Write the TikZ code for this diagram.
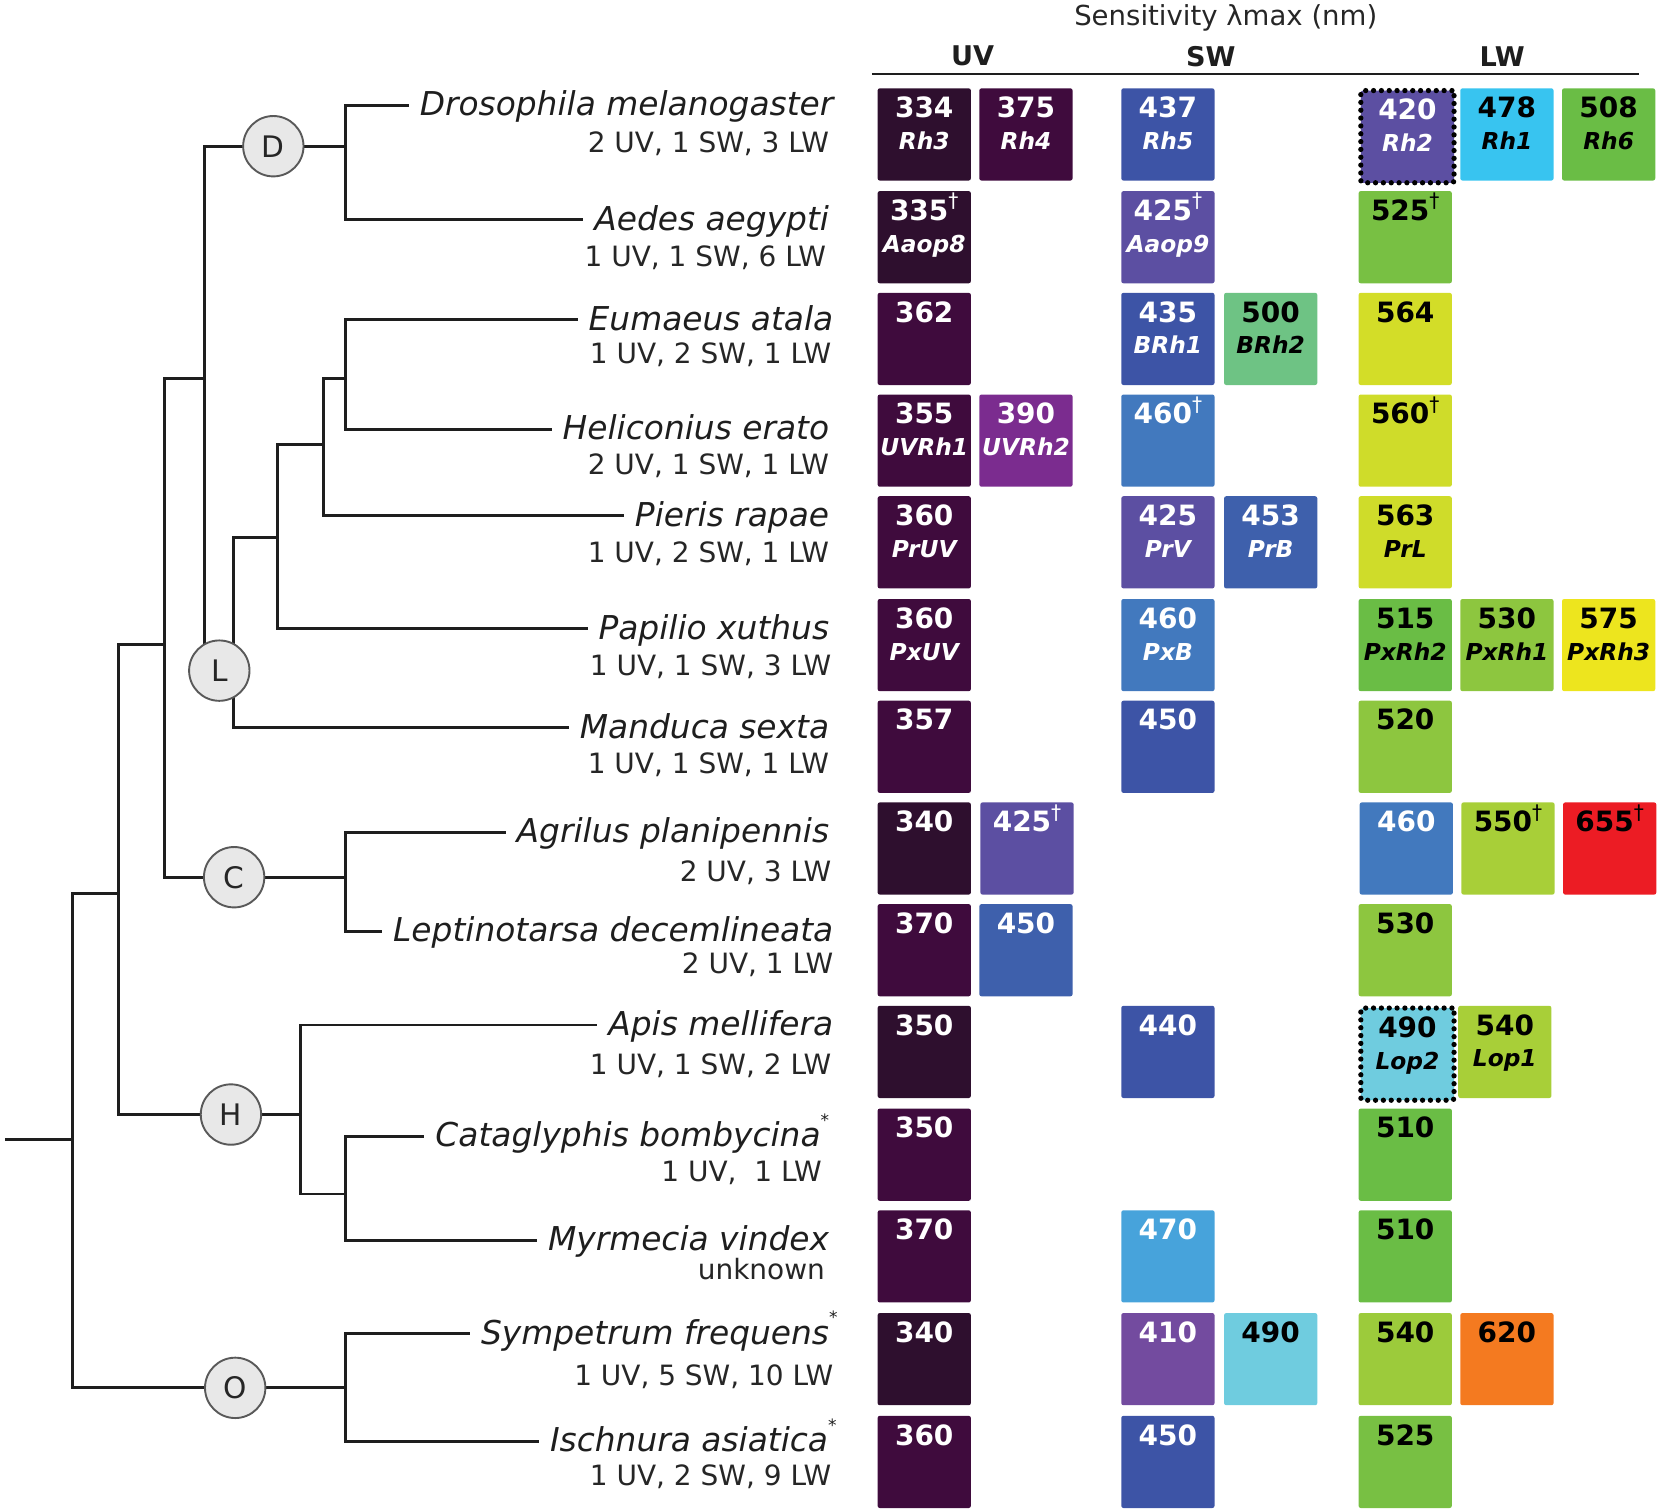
\documentclass[tikz,border=0pt]{standalone}
\usepackage{fontspec}
\setmainfont{DejaVu Sans}
\usepackage{tikz}

\definecolor{uvdark}{HTML}{2E0F2E}
\definecolor{uvplum}{HTML}{3F0B3D}
\definecolor{purple}{HTML}{7B2C8F}
\definecolor{lavender}{HTML}{734B9F}
\definecolor{violet}{HTML}{5C4FA2}
\definecolor{indigo}{HTML}{3D54A6}
\definecolor{cobalt}{HTML}{3E60AC}
\definecolor{azure}{HTML}{4279BE}
\definecolor{sky}{HTML}{47A3DB}
\definecolor{cyan}{HTML}{38C4F0}
\definecolor{aqua}{HTML}{6FCCDF}
\definecolor{mint}{HTML}{6EC384}
\definecolor{green}{HTML}{6ABD45}
\definecolor{grass}{HTML}{78C043}
\definecolor{lime}{HTML}{8DC63F}
\definecolor{chartreuse}{HTML}{A8CF38}
\definecolor{yellowgreen}{HTML}{CFDC2A}
\definecolor{yellow}{HTML}{EDE51E}
\definecolor{orange}{HTML}{F47A20}
\definecolor{red}{HTML}{EC1C24}
\definecolor{ink}{HTML}{1E1E1E}

\tikzset{
  branch/.style={line width=1.4pt,draw=ink},
  clade/.style={circle,draw=black!65,fill=black!9,line width=0.9pt,minimum size=28.5pt,inner sep=0pt,font=\fontsize{14}{14}\selectfont,text=black!85},
  spname/.style={anchor=east,inner xsep=5pt,inner ysep=0pt,text height=1.15em,text depth=0.16em,font=\fontsize{15.5}{17}\selectfont\itshape,text=ink},
  spcount/.style={anchor=base east,inner sep=0pt,font=\fontsize{13.2}{15}\selectfont,text=black!85},
  head/.style={font=\fontsize{13}{15}\selectfont,text=black!85},
  band/.style={font=\fontsize{12.8}{15}\selectfont\bfseries,text=ink},
  opbox/.style={anchor=north west,inner sep=0pt,rounded corners=1pt,font=\fontsize{13.2}{15}\selectfont\bfseries},
  wt/.style={text=white},
  bk/.style={text=black},
  dots/.style={draw=black,line width=2.5pt,dash pattern=on 0pt off 3.7pt,line cap=round},
}

\newcommand{\gene}[1]{{\fontsize{11}{15}\selectfont\itshape #1}}
\newcommand{\dg}{\smash{\raisebox{0.45em}{\fontsize{9.5}{10}\selectfont\mdseries †}}}
\newcommand{\starmark}{\rlap{\raisebox{0.62em}{\fontsize{8}{9}\selectfont\upshape *}}}
% box: name, x, y, options, text
\newcommand{\opsin}[5]{\node[opbox,#4] (#1) at (#2,#3) {\parbox[t][43.5pt][t]{44pt}{\centering\rule{0pt}{13.8pt}#5}};}
% species: name, x, y, label, x, y, count
\newcommand{\taxon}[7]{\node[spname] (#1) at (#2,#3) {#4};
  \node[spcount] (#1c) at (#5,#6) {#7};}

\begin{document}
\begin{tikzpicture}[x=0.5pt,y=-0.5pt]
\useasboundingbox (0,0) rectangle (1565,1426);

% header
\node[head] (sens) at (1157,17) {Sensitivity λmax (nm)};
\node[band] (uvh) at (918,53) {UV};
\node[band] (swh) at (1143,53) {SW};
\node[band] (lwh) at (1418,53) {LW};
\coordinate (ruleL) at (823,70);
\coordinate (ruleR) at (1547,70);
\draw[line width=1.2pt,draw=ink] (ruleL) -- (ruleR);

% species
\taxon{dmel}{797}{99.5}{Drosophila melanogaster}{783}{144}{2 UV, 1 SW, 3 LW}
\taxon{aaeg}{793}{207.5}{Aedes aegypti}{780}{252}{1 UV, 1 SW, 6 LW}
\taxon{eata}{797}{302}{Eumaeus atala}{785}{343}{1 UV, 2 SW, 1 LW}
\taxon{hera}{793}{405}{Heliconius erato}{783}{448}{2 UV, 1 SW, 1 LW}
\taxon{prap}{793}{487}{Pieris rapae}{783}{531}{1 UV, 2 SW, 1 LW}
\taxon{pxut}{793}{593.5}{Papilio xuthus}{785}{638}{1 UV, 1 SW, 3 LW}
\taxon{msex}{793}{687}{Manduca sexta}{783}{730}{1 UV, 1 SW, 1 LW}
\taxon{apla}{793}{785.5}{Agrilus planipennis}{785}{832}{2 UV, 3 LW}
\taxon{ldec}{797}{879}{Leptinotarsa decemlineata}{787}{919}{2 UV, 1 LW}
\taxon{amel}{797}{967.5}{Apis mellifera}{785}{1014}{1 UV, 1 SW, 2 LW}
\taxon{cbom}{785}{1072.5}{Cataglyphis bombycina\starmark}{776}{1115}{1 UV,~~1 LW}
\taxon{mvin}{793}{1170.5}{Myrmecia vindex}{779}{1208}{unknown}
\taxon{sfre}{793}{1259}{Sympetrum frequens\starmark}{787}{1308}{1 UV, 5 SW, 10 LW}
\taxon{iasi}{792}{1360.5}{Ischnura asiatica\starmark}{785}{1402}{1 UV, 2 SW, 9 LW}

% tree
\coordinate (root0) at (5,1076);
\coordinate (n1) at (68,1076);
\coordinate (n2) at (112,843);
\coordinate (n3) at (155,608);
\coordinate (n4) at (193,357);
\coordinate (Dc) at (258,138);
\coordinate (dx) at (326,138);
\coordinate (Lc) at (207,633);
\coordinate (lx) at (220,633);
\coordinate (n5) at (262,507);
\coordinate (n6) at (305,420);
\coordinate (n7) at (326,357);
\coordinate (Cc) at (221,828);
\coordinate (cx) at (326,828);
\coordinate (Hc) at (218,1052);
\coordinate (hx) at (284,1052);
\coordinate (n8) at (326,1127);
\coordinate (Oc) at (222,1310);
\coordinate (ox) at (326,1310);

\draw[branch] (root0) -- (n1);
\draw[branch] (n1) |- (n2);
\draw[branch] (n1) |- (ox);
\draw[branch] (n2) |- (n3);
\draw[branch] (n2) |- (hx);
\draw[branch] (n3) |- (n4);
\draw[branch] (n3) |- (cx);
\draw[branch] (n4) |- (dx);
\draw[branch] (n4) |- (Lc);
\draw[branch] (dx) |- (dmel.west);
\draw[branch] (dx) |- (aaeg.west);
\draw[branch] (lx) |- (n5);
\draw[branch] (lx) |- (msex.west);
\draw[branch] (n5) |- (n6);
\draw[branch] (n5) |- (pxut.west);
\draw[branch] (n6) |- (n7);
\draw[branch] (n6) |- (prap.west);
\draw[branch] (n7) |- (eata.west);
\draw[branch] (n7) |- (hera.west);
\draw[branch] (cx) |- (apla.west);
\draw[branch] (cx) |- (ldec.west);
\draw[branch] (hx) |- (amel.west);
\draw[branch] (hx) |- (n8);
\draw[branch] (n8) |- (cbom.west);
\draw[branch] (n8) |- (mvin.west);
\draw[branch] (ox) |- (sfre.west);
\draw[branch] (ox) |- (iasi.west);

\node[clade] (D) at (Dc) {D};
\node[clade] (L) at (Lc) {L};
\node[clade] (C) at (Cc) {C};
\node[clade] (H) at (Hc) {H};
\node[clade] (O) at (Oc) {O};

% opsins
\opsin{dmelA}{828}{83}{fill=uvdark,wt}{334\\\gene{Rh3}}
\opsin{dmelB}{924}{83}{fill=uvplum,wt}{375\\\gene{Rh4}}
\opsin{dmelC}{1058}{83}{fill=indigo,wt}{437\\\gene{Rh5}}
\opsin{dmelD}{1282}{83}{fill=violet,wt,dots}{420\\\gene{Rh2}}
\opsin{dmelE}{1378}{83}{fill=cyan,bk}{478\\\gene{Rh1}}
\opsin{dmelF}{1474}{83}{fill=green,bk}{508\\\gene{Rh6}}

\opsin{aaegA}{828}{180}{fill=uvdark,wt}{335\dg\\\gene{Aaop8}}
\opsin{aaegC}{1058}{180}{fill=violet,wt}{425\dg\\\gene{Aaop9}}
\opsin{aaegD}{1282}{180}{fill=grass,bk}{525\dg}

\opsin{eataA}{828}{276}{fill=uvplum,wt}{362}
\opsin{eataC}{1058}{276}{fill=indigo,wt}{435\\\gene{BRh1}}
\opsin{eataD}{1155}{276}{fill=mint,bk}{500\\\gene{BRh2}}
\opsin{eataE}{1282}{276}{fill=yellowgreen!85!yellow,bk}{564}

\opsin{heraA}{828}{372}{fill=uvplum,wt}{355\\\gene{UVRh1}}
\opsin{heraB}{924}{372}{fill=purple,wt}{390\\\gene{UVRh2}}
\opsin{heraC}{1058}{372}{fill=azure,wt}{460\dg}
\opsin{heraE}{1282}{372}{fill=yellowgreen,bk}{560\dg}

\opsin{prapA}{828}{468}{fill=uvplum,wt}{360\\\gene{PrUV}}
\opsin{prapC}{1058}{468}{fill=violet,wt}{425\\\gene{PrV}}
\opsin{prapD}{1155}{468}{fill=cobalt,wt}{453\\\gene{PrB}}
\opsin{prapE}{1282}{468}{fill=yellowgreen,bk}{563\\\gene{PrL}}

\opsin{pxutA}{828}{565}{fill=uvplum,wt}{360\\\gene{PxUV}}
\opsin{pxutC}{1058}{565}{fill=azure,wt}{460\\\gene{PxB}}
\opsin{pxutE}{1282}{565}{fill=green,bk}{515\\\gene{PxRh2}}
\opsin{pxutF}{1378}{565}{fill=lime,bk}{530\\\gene{PxRh1}}
\opsin{pxutG}{1474}{565}{fill=yellow,bk}{575\\\gene{PxRh3}}

\opsin{msexA}{828}{661}{fill=uvplum,wt}{357}
\opsin{msexC}{1058}{661}{fill=indigo,wt}{450}
\opsin{msexE}{1282}{661}{fill=lime,bk}{520}

\opsin{aplaA}{828}{757}{fill=uvdark,wt}{340}
\opsin{aplaB}{925}{757}{fill=violet,wt}{425\dg}
\opsin{aplaE}{1283}{757}{fill=azure,wt}{460}
\opsin{aplaF}{1379}{757}{fill=chartreuse,bk}{550\dg}
\opsin{aplaG}{1475}{757}{fill=red,bk}{655\dg}

\opsin{ldecA}{828}{853}{fill=uvplum,wt}{370}
\opsin{ldecB}{924}{853}{fill=cobalt,wt}{450}
\opsin{ldecE}{1282}{853}{fill=lime,bk}{530}

\opsin{amelA}{828}{949}{fill=uvdark,wt}{350}
\opsin{amelC}{1058}{949}{fill=indigo,wt}{440}
\opsin{amelE}{1282}{949}{fill=aqua,bk,dots}{490\\\gene{Lop2}}
\opsin{amelF}{1376}{949}{fill=chartreuse,bk}{540\\\gene{Lop1}}

\opsin{cbomA}{828}{1046}{fill=uvplum,wt}{350}
\opsin{cbomE}{1282}{1046}{fill=green,bk}{510}

\opsin{mvinA}{828}{1142}{fill=uvplum,wt}{370}
\opsin{mvinC}{1058}{1142}{fill=sky,wt}{470}
\opsin{mvinE}{1282}{1142}{fill=green,bk}{510}

\opsin{sfreA}{828}{1239}{fill=uvdark,wt}{340}
\opsin{sfreC}{1058}{1239}{fill=lavender,wt}{410}
\opsin{sfreD}{1155}{1239}{fill=aqua,bk}{490}
\opsin{sfreE}{1282}{1239}{fill=chartreuse!80!green,bk}{540}
\opsin{sfreF}{1378}{1239}{fill=orange,bk}{620}

\opsin{iasiA}{828}{1336}{fill=uvplum,wt}{360}
\opsin{iasiC}{1058}{1336}{fill=indigo,wt}{450}
\opsin{iasiE}{1282}{1336}{fill=grass,bk}{525}
\end{tikzpicture}
\end{document}
